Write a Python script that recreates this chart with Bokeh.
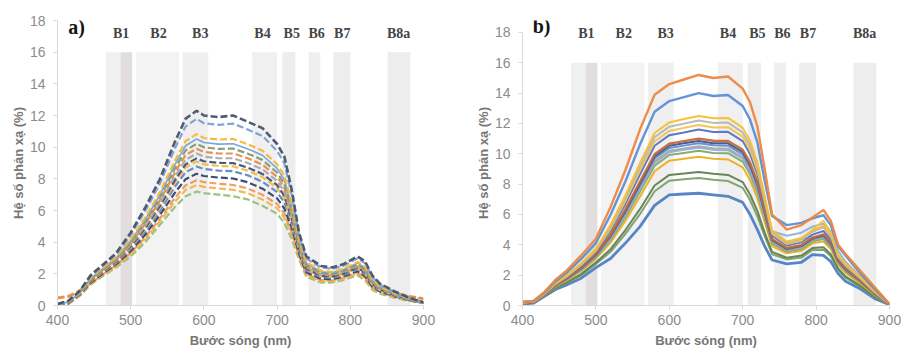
from bokeh.plotting import figure
from bokeh.layouts import row
from bokeh.models import Range1d, FixedTicker
from bokeh.core.properties import value
from bokeh.embed import file_html
from bokeh.resources import INLINE

# ---------------- data ----------------
x_ticks = [400, 500, 600, 700, 800, 900]
y_ticks = [0, 2, 4, 6, 8, 10, 12, 14, 16, 18]

band_names = ["B1", "B2", "B3", "B4", "B5", "B6", "B7", "B8a"]
band_label_x = [487, 538, 595, 680, 720, 754, 789, 866]
band_left = [466, 486, 507, 571, 666, 707, 743, 777, 851]
band_right = [486, 502, 566, 606, 700, 725, 759, 800, 882]
band_fill = ["#F0F0F0", "#E2DEDE", "#F3F3F3", "#EFEFEF", "#F0F0F0", "#EDEDED", "#EFEFEF", "#EDEDED", "#EDEDED"]

# panel a (dashed spectra)
wl_a = [400, 415, 430, 445, 460, 480, 500, 520, 540, 560, 575, 590, 600, 620, 640, 660,
        680, 700, 710, 720, 730, 740, 760, 775, 790, 810, 820, 830, 840, 860, 880, 900]
a01 = [0.10, 0.30, 0.90, 1.90, 2.50, 3.30, 4.60, 6.20, 8.00, 10.30, 11.80, 12.30, 12.00, 11.90, 12.00, 11.60, 11.20, 10.20, 9.40, 7.30, 4.60, 3.10, 2.50, 2.40, 2.60, 3.10, 2.80, 1.90, 1.40, 0.90, 0.50, 0.20]
a02 = [0.10, 0.28, 0.87, 1.84, 2.43, 3.21, 4.45, 5.98, 7.71, 9.89, 11.31, 11.79, 11.51, 11.41, 11.49, 11.11, 10.71, 9.76, 8.98, 6.99, 4.43, 2.97, 2.40, 2.31, 2.50, 2.98, 2.68, 1.81, 1.34, 0.86, 0.48, 0.20]
a03 = [0.09, 0.24, 0.81, 1.73, 2.30, 3.04, 4.17, 5.56, 7.16, 9.11, 10.38, 10.82, 10.58, 10.48, 10.52, 10.18, 9.78, 8.92, 8.18, 6.40, 4.11, 2.72, 2.20, 2.12, 2.31, 2.75, 2.45, 1.64, 1.21, 0.78, 0.44, 0.19]
a04 = [0.08, 0.23, 0.80, 1.69, 2.26, 2.99, 4.08, 5.43, 6.99, 8.87, 10.09, 10.52, 10.29, 10.19, 10.22, 9.89, 9.49, 8.66, 7.93, 6.22, 4.01, 2.65, 2.13, 2.07, 2.25, 2.68, 2.38, 1.59, 1.17, 0.76, 0.43, 0.18]
a05 = [0.08, 0.22, 0.78, 1.65, 2.21, 2.93, 3.99, 5.30, 6.81, 8.62, 9.79, 10.21, 9.99, 9.89, 9.91, 9.59, 9.19, 8.40, 7.68, 6.03, 3.90, 2.57, 2.07, 2.01, 2.19, 2.61, 2.31, 1.53, 1.13, 0.74, 0.42, 0.18]
a06 = [0.50, 0.60, 0.95, 1.62, 2.17, 2.88, 3.90, 5.17, 6.64, 8.37, 9.50, 9.90, 9.70, 9.60, 9.60, 9.30, 8.90, 8.13, 7.43, 5.84, 3.80, 2.49, 2.01, 1.95, 2.13, 2.54, 2.24, 1.48, 1.15, 0.80, 0.60, 0.45]
a07 = [0.07, 0.19, 0.74, 1.58, 2.13, 2.82, 3.81, 5.03, 6.46, 8.13, 9.20, 9.60, 9.40, 9.30, 9.30, 9.00, 8.60, 7.87, 7.17, 5.66, 3.70, 2.41, 1.94, 1.90, 2.07, 2.46, 2.16, 1.42, 1.06, 0.69, 0.39, 0.17]
a08 = [0.07, 0.18, 0.72, 1.55, 2.09, 2.77, 3.72, 4.90, 6.29, 7.88, 8.91, 9.29, 9.11, 9.01, 8.99, 8.71, 8.31, 7.60, 6.92, 5.47, 3.60, 2.33, 1.88, 1.84, 2.01, 2.39, 2.09, 1.37, 1.02, 0.66, 0.38, 0.17]
a09 = [0.07, 0.17, 0.71, 1.52, 2.06, 2.73, 3.66, 4.81, 6.17, 7.72, 8.71, 9.09, 8.91, 8.81, 8.79, 8.51, 8.11, 7.43, 6.75, 5.35, 3.53, 2.28, 1.84, 1.80, 1.97, 2.34, 2.04, 1.33, 0.99, 0.65, 0.37, 0.17]
a10 = [0.07, 0.16, 0.69, 1.49, 2.02, 2.68, 3.57, 4.68, 6.00, 7.47, 8.42, 8.78, 8.62, 8.52, 8.48, 8.22, 7.82, 7.16, 6.50, 5.16, 3.43, 2.20, 1.78, 1.74, 1.91, 2.27, 1.97, 1.28, 0.95, 0.62, 0.36, 0.17]
a11 = [0.06, 0.14, 0.67, 1.43, 1.95, 2.60, 3.43, 4.48, 5.74, 7.10, 7.98, 8.32, 8.18, 8.08, 8.02, 7.78, 7.38, 6.77, 6.12, 4.88, 3.27, 2.09, 1.68, 1.66, 1.82, 2.16, 1.86, 1.20, 0.89, 0.59, 0.34, 0.16]
a12 = [0.45, 0.55, 0.85, 1.38, 1.90, 2.53, 3.31, 4.31, 5.51, 6.77, 7.59, 7.91, 7.79, 7.69, 7.61, 7.39, 6.99, 6.42, 5.79, 4.63, 3.14, 1.98, 1.60, 1.58, 1.74, 2.07, 1.77, 1.13, 1.00, 0.75, 0.55, 0.40]
a13 = [0.05, 0.12, 0.62, 1.35, 1.86, 2.47, 3.22, 4.18, 5.33, 6.53, 7.29, 7.61, 7.49, 7.39, 7.31, 7.09, 6.69, 6.15, 5.54, 4.45, 3.04, 1.90, 1.53, 1.53, 1.68, 2.00, 1.70, 1.07, 0.80, 0.53, 0.32, 0.15]
a14 = [0.05, 0.10, 0.60, 1.30, 1.80, 2.40, 3.10, 4.00, 5.10, 6.20, 6.90, 7.20, 7.10, 7.00, 6.90, 6.70, 6.30, 5.80, 5.20, 4.20, 2.90, 1.80, 1.45, 1.45, 1.60, 1.90, 1.60, 1.00, 0.75, 0.50, 0.30, 0.15]

# panel b (solid spectra)
wl_b = [400, 415, 430, 445, 460, 480, 500, 520, 540, 560, 580, 600, 620, 640, 660, 680,
        700, 710, 720, 730, 740, 760, 780, 795, 810, 820, 830, 840, 860, 880, 900]
b01 = [0.25, 0.30, 0.90, 1.70, 2.30, 3.30, 4.40, 6.50, 8.90, 11.60, 13.90, 14.60, 14.90, 15.20, 15.00, 15.10, 14.30, 13.40, 11.80, 9.00, 6.00, 5.00, 5.30, 5.80, 6.30, 5.60, 4.00, 3.40, 2.30, 1.20, 0.10]
b02 = [0.23, 0.28, 0.85, 1.60, 2.15, 3.07, 4.11, 5.98, 8.16, 10.61, 12.78, 13.48, 13.74, 14.00, 13.81, 13.88, 13.15, 12.26, 10.75, 8.21, 5.90, 5.30, 5.45, 5.75, 5.95, 5.30, 3.90, 3.30, 2.12, 1.08, 0.09]
b03 = [0.20, 0.25, 0.80, 1.48, 1.97, 2.78, 3.74, 5.32, 7.24, 9.39, 11.37, 12.07, 12.29, 12.50, 12.34, 12.37, 11.71, 10.84, 9.45, 7.24, 4.96, 4.22, 4.45, 4.95, 5.26, 4.67, 3.34, 2.78, 1.88, 0.94, 0.08]
b04 = [0.19, 0.24, 0.78, 1.45, 1.93, 2.72, 3.67, 5.19, 7.05, 9.14, 11.09, 11.79, 11.99, 12.20, 12.04, 12.06, 11.41, 10.55, 9.18, 7.04, 4.85, 4.13, 4.36, 4.86, 5.15, 4.56, 3.27, 2.71, 1.84, 0.91, 0.08]
b05 = [0.19, 0.24, 0.77, 1.43, 1.90, 2.67, 3.60, 5.06, 6.87, 8.89, 10.81, 11.51, 11.71, 11.90, 11.74, 11.76, 11.13, 10.27, 8.92, 6.84, 4.73, 4.05, 4.26, 5.00, 5.60, 4.80, 3.20, 2.64, 1.79, 0.88, 0.08]
b06 = [0.18, 0.23, 0.76, 1.40, 1.86, 2.61, 3.52, 4.93, 6.68, 8.64, 10.53, 11.23, 11.41, 11.60, 11.44, 11.45, 10.84, 9.98, 8.66, 6.64, 4.61, 3.96, 4.17, 4.67, 4.91, 4.35, 3.12, 2.57, 1.75, 0.85, 0.07]
b07 = [0.17, 0.22, 0.74, 1.35, 1.79, 2.49, 3.38, 4.67, 6.32, 8.16, 9.97, 10.67, 10.84, 11.00, 10.86, 10.85, 10.27, 9.42, 8.14, 6.26, 4.39, 3.79, 3.98, 4.48, 4.69, 4.15, 2.98, 2.43, 1.65, 0.80, 0.07]
b08 = [0.17, 0.22, 0.73, 1.34, 1.77, 2.46, 3.34, 4.60, 6.22, 8.03, 9.83, 10.53, 10.69, 10.85, 10.70, 10.69, 10.12, 9.27, 8.01, 6.15, 4.33, 3.74, 3.93, 4.43, 4.63, 4.09, 2.94, 2.40, 1.63, 0.78, 0.07]
b09 = [0.16, 0.21, 0.73, 1.32, 1.75, 2.43, 3.30, 4.54, 6.13, 7.91, 9.69, 10.39, 10.54, 10.70, 10.56, 10.54, 9.97, 9.13, 7.88, 6.06, 4.27, 3.70, 3.89, 4.39, 4.57, 4.04, 2.90, 2.36, 1.61, 0.77, 0.07]
b10 = [0.16, 0.21, 0.72, 1.31, 1.73, 2.40, 3.25, 4.45, 6.01, 7.74, 9.50, 10.20, 10.35, 10.50, 10.36, 10.34, 9.78, 8.94, 7.70, 5.92, 4.19, 3.64, 3.82, 4.32, 4.49, 3.97, 2.85, 2.31, 1.58, 0.75, 0.07]
b11 = [0.16, 0.21, 0.72, 1.30, 1.72, 2.38, 3.23, 4.41, 5.95, 7.66, 9.41, 10.11, 10.26, 10.40, 10.26, 10.24, 9.69, 8.85, 7.62, 5.86, 4.90, 4.60, 4.80, 5.20, 5.40, 4.90, 3.60, 2.90, 1.90, 0.95, 0.08]
b12 = [0.15, 0.20, 0.71, 1.28, 1.69, 2.34, 3.18, 4.32, 5.82, 7.50, 9.22, 9.92, 10.06, 10.20, 10.06, 10.04, 9.49, 8.66, 7.44, 5.73, 4.08, 3.56, 3.73, 4.23, 4.38, 3.87, 2.78, 2.25, 1.53, 0.72, 0.07]
b13 = [0.15, 0.20, 0.69, 1.25, 1.64, 2.26, 3.09, 4.15, 5.58, 7.17, 8.85, 9.55, 9.68, 9.80, 9.67, 9.63, 9.11, 8.28, 7.09, 5.47, 3.92, 3.44, 3.60, 4.10, 4.22, 3.73, 2.69, 2.15, 1.47, 0.68, 0.07]
b14 = [0.13, 0.18, 0.65, 1.17, 1.52, 2.07, 2.84, 3.71, 4.96, 6.35, 7.91, 8.61, 8.70, 8.80, 8.68, 8.61, 8.14, 7.32, 6.22, 4.81, 3.54, 3.15, 3.29, 3.79, 3.84, 3.38, 2.44, 1.92, 1.31, 0.58, 0.06]
b15 = [0.12, 0.17, 0.64, 1.13, 1.47, 1.99, 2.74, 3.54, 4.71, 6.02, 7.53, 8.23, 8.32, 8.40, 8.29, 8.21, 7.76, 6.95, 5.87, 4.55, 3.38, 3.04, 3.16, 3.66, 3.68, 3.25, 2.34, 1.83, 1.25, 0.55, 0.06]
b16 = [0.10, 0.15, 0.60, 1.05, 1.35, 1.80, 2.50, 3.10, 4.10, 5.20, 6.60, 7.30, 7.35, 7.40, 7.30, 7.20, 6.80, 6.00, 5.00, 3.90, 3.00, 2.75, 2.85, 3.35, 3.30, 2.90, 2.10, 1.60, 1.10, 0.45, 0.05]

# ---------------- styles ----------------
a_series = [a14, a13, a12, a11, a10, a09, a08, a07, a06, a05, a04, a03, a02, a01]
a_colors = ["#93BF7E", "#F2B448", "#EE9A5A", "#33436A", "#5D86C8", "#F2BC3C", "#41517A",
            "#A8A8A8", "#EC8A45", "#7C9C72", "#74A0D8", "#F5B72F", "#7E9FD0", "#44546A"]
a_dash = ["7 3"] * 14
a_width = [2.2, 2.2, 2.2, 2.2, 2.2, 2.2, 2.2, 2.2, 2.2, 2.2, 1.6, 2.2, 2.2, 2.6]
a_dash[10] = "solid"

b_series = [b16, b15, b14, b13, b12, b11, b10, b09, b08, b07, b06, b05, b04, b03, b02, b01]
b_colors = ["#4E7FC4", "#7CA06A", "#5F8050", "#EBAE1E", "#7FA868", "#8DB0DC", "#A8A8A8", "#5B8ED4",
            "#3F5789", "#C5683A", "#5572C0", "#F2C24A", "#B5B5B5", "#F7BE2E", "#5B8ED4", "#EE8640"]
b_width = [2.8, 2, 2, 2, 2, 2, 2, 2, 2, 2.4, 2, 2, 2, 2, 2.4, 2.4]

SANS = "Liberation Sans"
SERIF = "Liberation Serif"


def base_fig(width, yend, bl, br):
    p = figure(width=width, height=353, output_backend="svg", toolbar_location=None,
               x_range=Range1d(400, 900), y_range=Range1d(0, yend),
               min_border_left=bl, min_border_right=br, min_border_top=20, min_border_bottom=48)
    p.title.visible = False
    p.outline_line_color = None
    p.xgrid.grid_line_color = None
    p.ygrid.grid_line_color = None
    p.background_fill_color = "white"
    p.border_fill_color = "white"
    p.xaxis.ticker = FixedTicker(ticks=x_ticks)
    p.yaxis.ticker = FixedTicker(ticks=y_ticks)
    p.xaxis.bounds = (400, 900)
    p.yaxis.bounds = (0, 18)
    for ax in (p.xaxis[0], p.yaxis[0]):
        ax.axis_line_color = "#D9D9D9"
        ax.major_tick_line_color = "#D9D9D9"
        ax.major_tick_out = 4
        ax.major_tick_in = 0
        ax.minor_tick_line_color = None
        ax.major_label_text_font = SANS
        ax.major_label_text_font_size = "14px"
        ax.major_label_text_color = "#8C8C8C"
        ax.axis_label_text_font = SANS
        ax.axis_label_text_font_style = "bold"
        ax.axis_label_text_color = "#767676"
        ax.axis_label_text_font_size = "13px"
    p.xaxis.axis_label = "Bước sóng (nm)"
    p.yaxis.axis_label = "Hệ số phản xạ (%)"
    p.xaxis.major_label_standoff = 5
    p.xaxis.axis_label_standoff = 5
    p.yaxis.major_label_standoff = 8
    p.yaxis.axis_label_standoff = 1
    # spectral bands
    p.quad(left=band_left, right=band_right, bottom=0, top=16,
           fill_color=band_fill, line_color=None)
    return p


def add_labels(p, label_y, tag, tag_y):
    p.text(x=band_label_x, y=[label_y] * len(band_names), text=band_names,
           text_font=value(SERIF), text_font_style="bold", text_font_size="14px",
           text_color="#454545", text_align="center", text_baseline="middle")
    p.text(x=[426], y=[tag_y], text=[tag], text_font=value(SERIF), text_font_style="bold",
           text_font_size="20px", text_color="#151515", text_align="center", text_baseline="middle")


pa = base_fig(450, 18, 57, 27)
for vals, col, dash, w in zip(a_series, a_colors, a_dash, a_width):
    pa.line(wl_a, vals, line_color=col, line_width=w, line_dash=dash, line_alpha=0.95)
add_labels(pa, 17.16, "a)", 17.6)

pb = base_fig(451, 18.79, 72, 12)
for vals, col, w in zip(b_series, b_colors, b_width):
    pb.line(wl_b, vals, line_color=col, line_width=w, line_alpha=0.95)
add_labels(pb, 17.93, "b)", 18.46)

layout = row(pa, pb)
open("out.html", "w").write(file_html(layout, INLINE))
